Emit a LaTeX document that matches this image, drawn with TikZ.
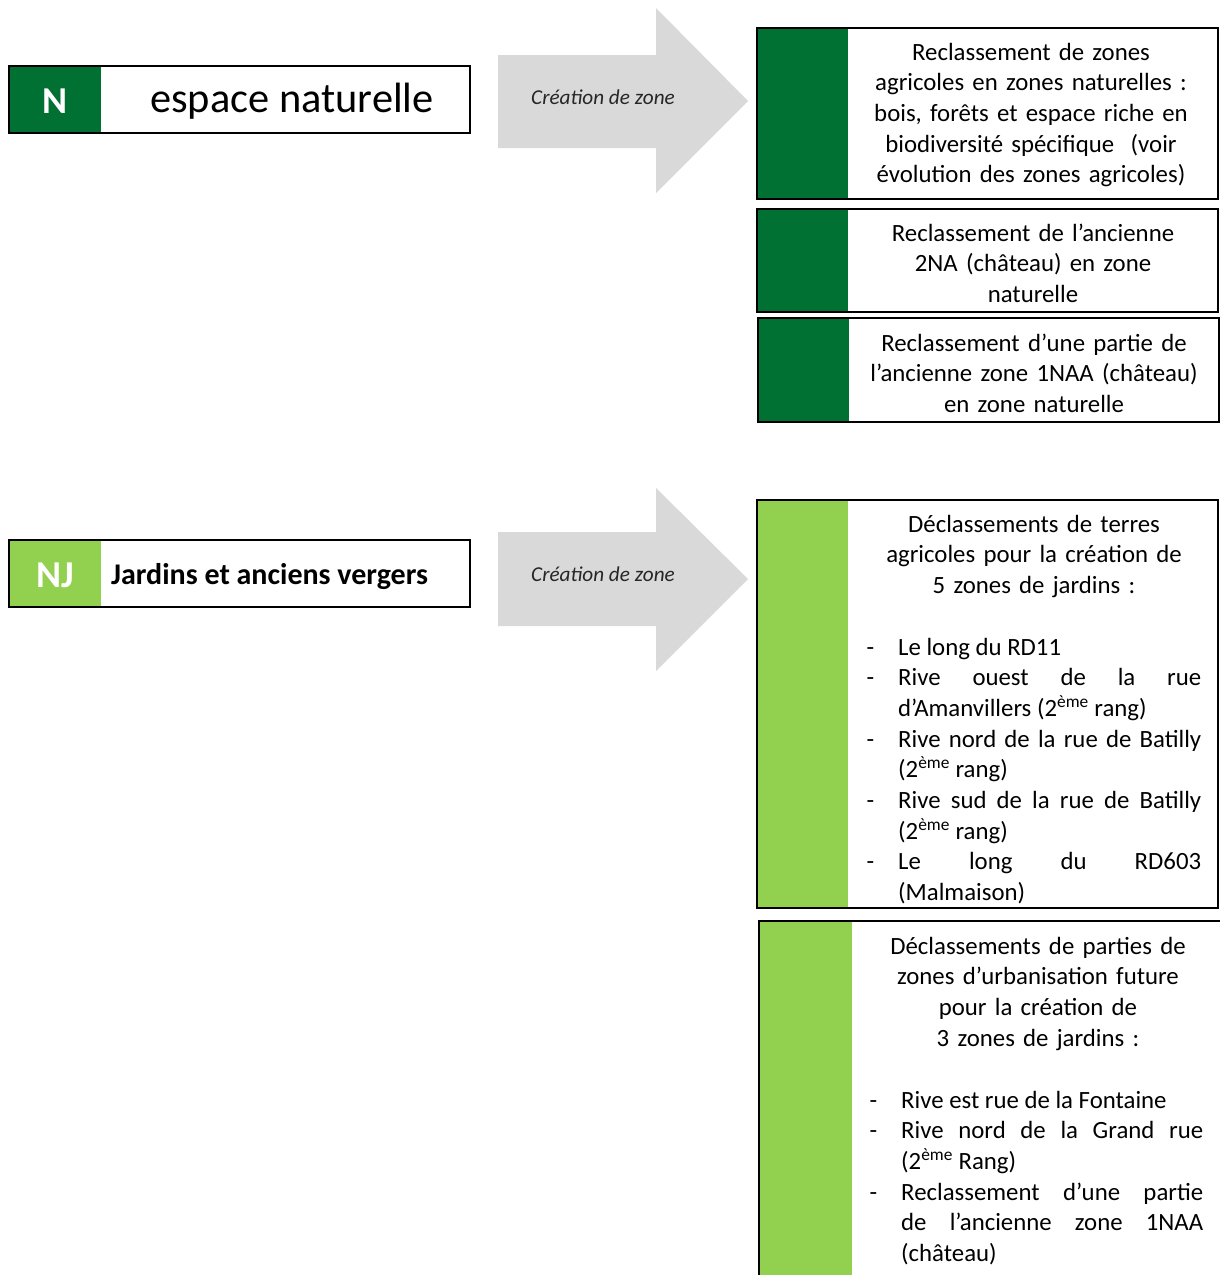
\documentclass[tikz,border=0pt]{standalone}
\usepackage{fontspec}
\setmainfont{Carlito}
\definecolor{darkzone}{RGB}{0,112,51}
\definecolor{lightzone}{RGB}{146,208,80}
\definecolor{arrowgray}{RGB}{217,217,217}
% list entries: a dash hanging left of the justified text
\newcommand\zonefirst{\noindent\llap{-\hspace{24pt}}}
\newcommand\zoneitem{\par\zonefirst}
\tikzset{
  frame/.style={draw=black,line width=2pt},
  bodytext/.style={font=\fontsize{24.8}{30.7}\selectfont,inner sep=0pt},
  headtext/.style={bodytext,anchor=base,align=center,text width=365pt},
  listtext/.style={bodytext,anchor=base west,align=justify},
  arrowtext/.style={font=\fontsize{21.2}{25}\selectfont\itshape,text=black!85,inner sep=0pt},
}
\begin{document}
\begin{tikzpicture}[x=1pt,y=-1pt]
\useasboundingbox[fill=white] (0,0) rectangle (1219,1275);

% ---------- zone N ----------
\fill[darkzone] (9,66) rectangle (101,133);
\draw[frame] (9,66) rectangle (470,133);
\node[text=white,font=\fontsize{38}{40}\selectfont\bfseries,inner sep=0pt] (ntag) at (55,101) {N};
\node[font=\fontsize{42.4}{46}\selectfont,inner sep=0pt] (nlabel) at (292,101) {espace naturelle};

\fill[arrowgray] (498,55) -- (656,55) -- (656,8) -- (748,101) -- (656,193) -- (656,148) -- (498,148) -- cycle;
\node[arrowtext] (narrow) at (603,97) {Création de zone};

\fill[darkzone] (757,28) rectangle (848,199);
\draw[frame] (757,28) rectangle (1218,199);
\node[headtext] (n1) at (1031,60) {Reclassement de zones\\agricoles en zones naturelles :\\bois, forêts et espace riche en\\biodiversité spécifique~ (voir\\évolution des zones agricoles)};

\fill[darkzone] (757,209) rectangle (848,312);
\draw[frame] (757,209) rectangle (1218,312);
\node[headtext] (n2) at (1033,241) {Reclassement de l’ancienne\\2NA (château) en zone\\naturelle};

\fill[darkzone] (758,318) rectangle (849,422);
\draw[frame] (758,318) rectangle (1219,422);
\node[headtext] (n3) at (1034,351) {Reclassement d’une partie de\\l’ancienne zone 1NAA (château)\\en zone naturelle};

% ---------- zone NJ ----------
\fill[lightzone] (9,540) rectangle (101,607);
\draw[frame] (9,540) rectangle (470,607);
\node[text=white,font=\fontsize{38}{40}\selectfont\bfseries,inner sep=0pt] (njtag) at (55,575) {NJ};
\node[anchor=west,font=\fontsize{30}{33}\selectfont\bfseries,inner sep=0pt] (njlabel) at (111,577) {Jardins et anciens vergers};

\fill[arrowgray] (498,532) -- (656,532) -- (656,488) -- (748,579) -- (656,671) -- (656,626) -- (498,626) -- cycle;
\node[arrowtext] (njarrow) at (603,574) {Création de zone};

\fill[lightzone] (757,500) rectangle (848,908);
\draw[frame] (757,500) rectangle (1218,908);
\node[headtext] (nj1) at (1034,532) {Déclassements de terres\\agricoles pour la création de\\5 zones de jardins :};
\node[listtext,text width=303pt] (nj1list) at (898,655) {%
\zonefirst Le long du RD11
\zoneitem Rive ouest de la rue\linebreak d’Amanvillers (2\textsuperscript{ème} rang)
\zoneitem Rive nord de la rue de Batilly\linebreak (2\textsuperscript{ème} rang)
\zoneitem Rive sud de la rue de Batilly\linebreak (2\textsuperscript{ème} rang)
\zoneitem Le long du RD603\linebreak (Malmaison)};

\fill[lightzone] (759,921) rectangle (852,1280);
\draw[frame] (759,1285) -- (759,921) -- (1225,921);
\node[headtext] (nj2) at (1038,954) {Déclassements de parties de\\zones d’urbanisation future\\pour la création de\\3 zones de jardins :};
\node[listtext,text width=302pt] (nj2list) at (901,1108) {%
\zonefirst Rive est rue de la Fontaine
\zoneitem Rive nord de la Grand rue\linebreak (2\textsuperscript{ème} Rang)
\zoneitem Reclassement d’une partie\linebreak de l’ancienne zone 1NAA\linebreak (château)};
\end{tikzpicture}
\end{document}
